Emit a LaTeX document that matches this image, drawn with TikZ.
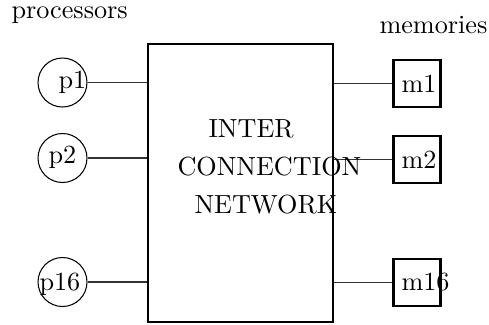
\documentclass[tikz,border=0pt]{standalone}
\begin{document}
\begin{tikzpicture}[x=0.3817pt,y=-0.3817pt,
  txt/.style={inner sep=0pt,anchor=base west,font=\fontsize{10}{12}\selectfont},
  proc/.style={draw,circle,line width=0.4pt,minimum size=18.7pt,inner sep=0pt},
  mem/.style={draw,rectangle,line width=0.9pt,minimum size=18.0pt,inner sep=0pt},
  net/.style={draw,rectangle,line width=1.1pt,minimum width=70.6pt,minimum height=106.1pt,inner sep=0pt},
  wire/.style={line width=0.45pt,draw=black!80}]
\useasboundingbox (0,0) rectangle (489,324);
% interconnection network box
\node[net] (net) at (240.5,183) {};
% processors
\node[proc] (p1) at (62.5,82.5) {};
\node[proc] (p2) at (62.5,158) {};
\node[proc] (p16) at (62.5,282) {};
% memories
\node[mem] (m1) at (417,83.5) {};
\node[mem] (m2) at (417,159.5) {};
\node[mem] (m16) at (417,282.5) {};
% connectors
\draw[wire] (p1.east) -- (p1.east -| net.west);
\draw[wire] (p2.east) -- (p2.east -| net.west);
\draw[wire] (p16.east) -- (p16.east -| net.west);
\draw[wire] (m1.west -| net.east) -- (m1.west);
\draw[wire] (m2.west -| net.east) -- (m2.west);
\draw[wire] (m16.west -| net.east) -- (m16.west);
% labels
\node[txt] (lproc) at (11,18) {processors};
\node[txt] (lmem) at (379,33) {memories};
\node[txt] (tp1) at (58,88) {p1};
\node[txt] (tp2) at (48,163) {p2};
\node[txt] (tp16) at (39,290) {p16};
\node[txt] (tm1) at (401,92) {m1};
\node[txt] (tm2) at (401,168) {m2};
\node[txt] (tm16) at (401,290) {m16};
\node[txt] (t1) at (208,137) {INTER};
\node[txt] (t2) at (177,175) {CONNECTION};
\node[txt] (t3) at (194,213) {NETWORK};
\end{tikzpicture}
\end{document}
